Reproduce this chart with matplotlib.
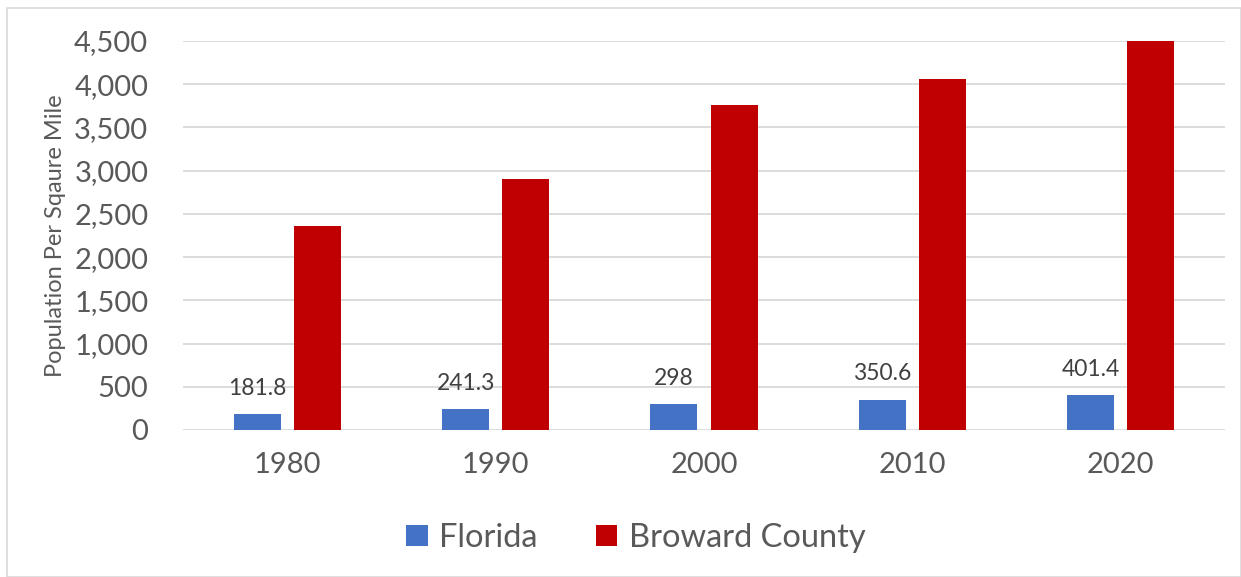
import matplotlib
matplotlib.use("Agg")
import matplotlib.pyplot as plt
import numpy as np
from matplotlib.patches import Rectangle

years = ["1980", "1990", "2000", "2010", "2020"]
florida = [181.8, 241.3, 298, 350.6, 401.4]
broward = [2360, 2905, 3765, 4055, 4500]
florida_labels = ["181.8", "241.3", "298", "350.6", "401.4"]
yticks = [0, 500, 1000, 1500, 2000, 2500, 3000, 3500, 4000, 4500]

plt.rcParams['font.family'] = ['Lato', 'DejaVu Sans']
txt = '#595959'

W, H = 1241, 577
fig = plt.figure(figsize=(W/100, H/100), dpi=100)
fig.add_artist(Rectangle((7/W, 0), (W-7)/W, (H-8)/H, transform=fig.transFigure,
                         fill=False, edgecolor='#d9d9d9', linewidth=1.2))
ax = fig.add_axes([183/W, 1-430/H, (1225-183)/W, (430-41)/H])

x = np.arange(len(years))
bw = 0.2255
off = 0.144
ax.bar(x - off, florida, bw, color='#4472C4', label='Florida', zorder=3)
ax.bar(x + off, broward, bw, color='#C00000', label='Broward County', zorder=3)

for xi, v, lab in zip(x, florida, florida_labels):
    ax.annotate(lab, (xi - off, v), xytext=(0, 11), textcoords='offset points',
                ha='center', va='bottom', fontsize=16.5, color='#404040')

ax.set_xlim(-0.5, len(years) - 0.5)
ax.set_ylim(0, 4500)
ax.set_yticks(yticks)
ax.set_yticklabels([f"{t:,}" for t in yticks])
ax.set_xticks(x)
ax.set_xticklabels(years)
ax.tick_params(axis='both', length=0, labelsize=21, colors=txt)
ax.tick_params(axis='y', pad=25)
ax.tick_params(axis='x', pad=16)
ax.grid(axis='y', color='#d9d9d9', linewidth=1.3, zorder=0)
for s in ax.spines.values():
    s.set_visible(False)
ax.set_ylabel("Population Per Sqaure Mile", fontsize=17, color=txt, labelpad=6)

leg = fig.legend(loc='center', bbox_to_anchor=(636/W, 1-538/H), ncol=2, frameon=False,
                 fontsize=23.5, handlelength=0.65, handleheight=0.65, handletextpad=0.35,
                 columnspacing=1.8)
for t in leg.get_texts():
    t.set_color(txt)

fig.savefig("out.png", dpi=100)
